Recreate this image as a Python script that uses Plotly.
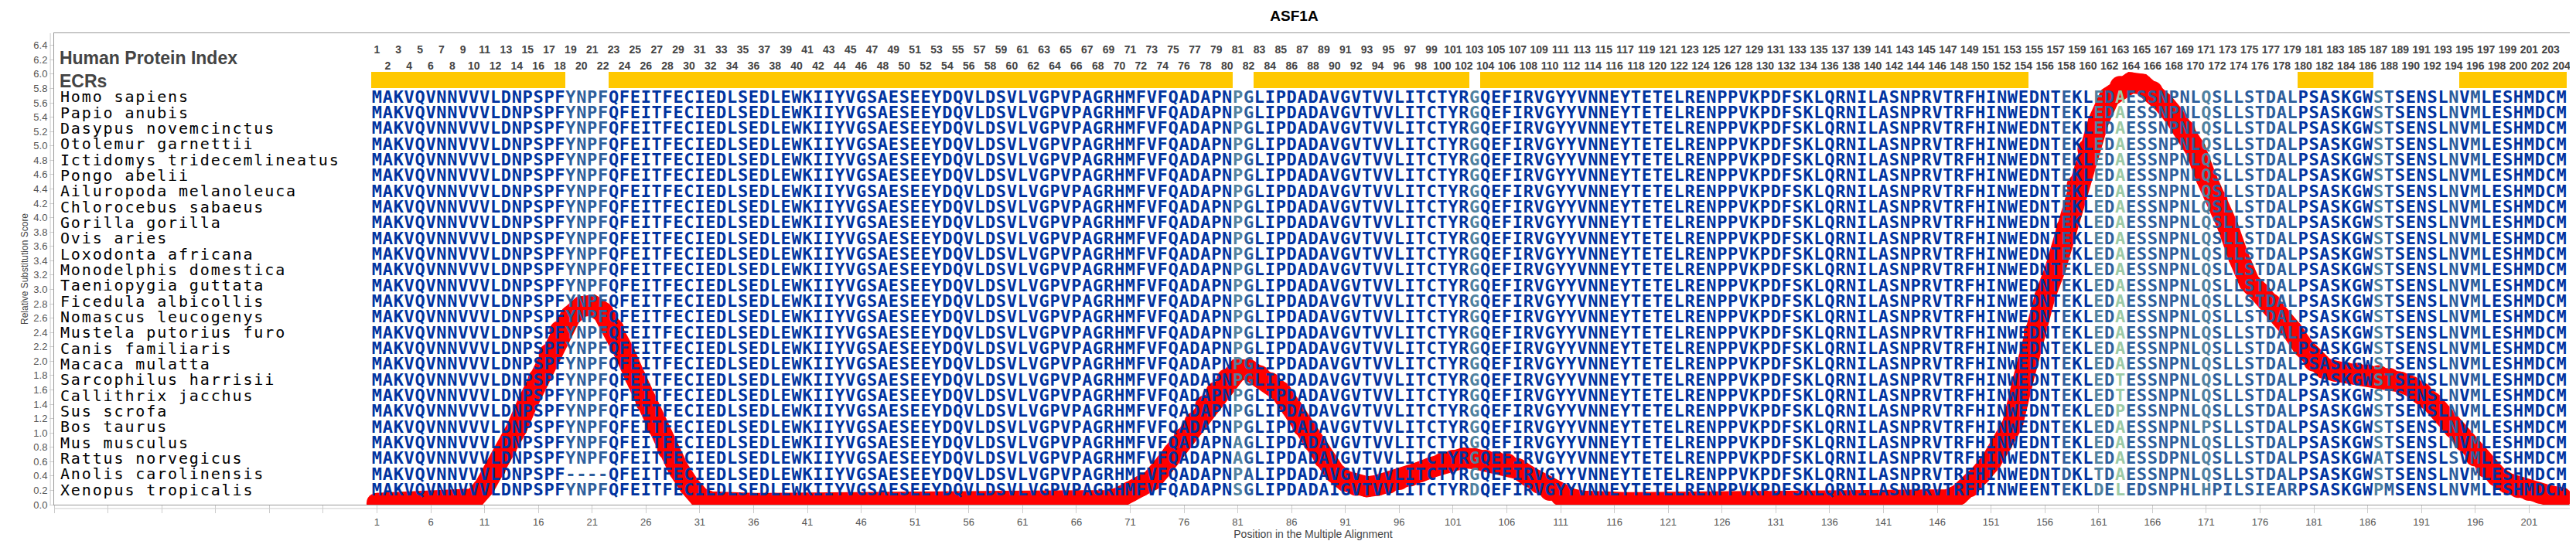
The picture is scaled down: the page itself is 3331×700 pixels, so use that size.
import plotly.graph_objects as go

TITLE = "ASF1A"

HUMAN_SEQ = (
    "MAKVQVNNVVVLDNPSPFYNPFQFEITFECIEDLSEDLEWKIIYVGSAESEEYDQVLDSVLVGPVPAGRHMFVFQADAPNPG"
    "LIPDADAVGVTVVLITCTYRGQEFIRVGYYVNNEYTETELRENPPVKPDFSKLQRNILASNPRVTRFHINWEDNTEKLEDAE"
    "SSNPNLQSLLSTDALPSASKGWSTSENSLNVMLESHMDCM"
)

SPECIES = [
    "Homo sapiens", "Papio anubis", "Dasypus novemcinctus", "Otolemur garnettii",
    "Ictidomys tridecemlineatus", "Pongo abelii", "Ailuropoda melanoleuca",
    "Chlorocebus sabaeus", "Gorilla gorilla", "Ovis aries", "Loxodonta africana",
    "Monodelphis domestica", "Taeniopygia guttata", "Ficedula albicollis",
    "Nomascus leucogenys", "Mustela putorius furo", "Canis familiaris", "Macaca mulatta",
    "Sarcophilus harrisii", "Callithrix jacchus", "Sus scrofa", "Bos taurus",
    "Mus musculus", "Rattus norvegicus", "Anolis carolinensis", "Xenopus tropicalis",
]

# residues that differ from the human sequence (alignment position -> residue)
VARIANTS = {
    "Sarcophilus harrisii": {163: "T"},
    "Callithrix jacchus": {163: "T"},
    "Sus scrofa": {163: "P"},
    "Bos taurus": {171: "P"},
    "Mus musculus": {81: "A"},
    "Rattus norvegicus": {81: "A", 167: "D", 187: "A", 194: "S"},
    "Anolis carolinensis": {19: "-", 20: "-", 21: "-", 22: "-", 82: "A", 158: "D", 161: "T"},
    "Xenopus tropicalis": {81: "S", 90: "I", 103: "D", 155: "E", 161: "D", 162: "E",
                           163: "L", 165: "D", 169: "H", 171: "H", 172: "P", 173: "I",
                           176: "I", 177: "E", 179: "R", 187: "P", 188: "M"},
}

ECR_STARTS = [1, 23, 83, 104, 180, 195]
ECR_ENDS = [18, 80, 102, 154, 186, 204]

# column shading of the alignment letters
MID_COLUMNS = [19, 20, 21, 22, 82, 158, 162, 164, 165, 166, 167, 168, 169, 170,
               172, 173, 174, 175, 176, 177, 178, 179, 188, 194, 196]
TEAL_COLUMNS = [81, 103, 161, 171, 187]
GREEN_COLUMNS = [163]

SCORES = [
    0.02, 0.02, 0.02, 0.02, 0.02, 0.02, 0.02, 0.02, 0.03, 0.08,
    0.25, 0.50, 0.78, 1.07, 1.42, 1.75, 2.10, 2.42, 2.63, 2.76,
    2.78, 2.68, 2.45, 2.12, 1.78, 1.43, 1.10, 0.78, 0.50, 0.27,
    0.10, 0.04, 0.02, 0.02, 0.02, 0.02, 0.02, 0.02, 0.02, 0.02,
    0.02, 0.02, 0.02, 0.02, 0.02, 0.02, 0.02, 0.02, 0.02, 0.02,
    0.02, 0.02, 0.02, 0.02, 0.02, 0.02, 0.02, 0.02, 0.02, 0.02,
    0.02, 0.02, 0.02, 0.02, 0.02, 0.02, 0.03, 0.04, 0.06, 0.10,
    0.18, 0.26, 0.34, 0.52, 0.72, 0.93, 1.15, 1.38, 1.57, 1.75,
    1.88, 1.88, 1.80, 1.70, 1.57, 1.35, 1.10, 0.88, 0.65, 0.45,
    0.33, 0.27, 0.25, 0.27, 0.30, 0.35, 0.40, 0.46, 0.52, 0.58,
    0.62, 0.65, 0.64, 0.62, 0.60, 0.57, 0.50, 0.40, 0.30, 0.20,
    0.13, 0.08, 0.05, 0.03, 0.03, 0.03, 0.03, 0.03, 0.03, 0.03,
    0.03, 0.03, 0.03, 0.03, 0.03, 0.03, 0.03, 0.03, 0.03, 0.03,
    0.03, 0.03, 0.03, 0.03, 0.03, 0.03, 0.03, 0.03, 0.03, 0.03,
    0.03, 0.03, 0.03, 0.03, 0.03, 0.04, 0.07, 0.14, 0.25, 0.42,
    0.60, 0.85, 1.12, 1.75, 2.40, 2.90, 3.30, 3.85, 4.45, 4.95,
    5.35, 5.68, 5.83, 5.88, 5.86, 5.76, 5.60, 5.42, 5.22, 4.95,
    4.55, 4.25, 3.88, 3.45, 3.10, 2.95, 2.80, 2.60, 2.42, 2.20,
    2.00, 1.90, 1.86, 1.84, 1.83, 1.81, 1.80, 1.76, 1.71, 1.65,
    1.56, 1.42, 1.25, 1.07, 0.88, 0.68, 0.52, 0.40, 0.30, 0.24,
    0.20, 0.16, 0.12, 0.10,
]

X_TICKS = list(range(-29, 205, 5))
Y_TICKS = [round(0.2 * i, 1) for i in range(33)]

assert len(HUMAN_SEQ) == 204 and len(SCORES) == 204

# layout helpers (data units)
ROW_TOP = 5.662
ROW_STEP = 0.219
NAME_X = -28
NUM_ODD_Y = 6.325
NUM_EVEN_Y = 6.10
ECR_Y0, ECR_Y1 = 5.80, 6.03

SHADES = {0: "#0033a0", 1: "#2d5e9c", 2: "#4f819f", 3: "#9dcaa6"}

positions = list(range(1, len(HUMAN_SEQ) + 1))


def column_shade(pos):
    if pos in GREEN_COLUMNS:
        return SHADES[3]
    if pos in TEAL_COLUMNS:
        return SHADES[2]
    if pos in MID_COLUMNS:
        return SHADES[1]
    return SHADES[0]


fig = go.Figure()

# ECR bars
fig.add_trace(go.Bar(
    x=[(s + e) / 2 for s, e in zip(ECR_STARTS, ECR_ENDS)],
    y=[ECR_Y1 - ECR_Y0] * len(ECR_STARTS),
    base=ECR_Y0,
    width=[e - s + 1 for s, e in zip(ECR_STARTS, ECR_ENDS)],
    marker=dict(color="#ffc800", line_width=0),
    hoverinfo="skip", showlegend=False,
))

# substitution score curve
fig.add_trace(go.Scatter(
    x=positions, y=SCORES, mode="lines+markers",
    line=dict(color="#ff0000", width=27),
    marker=dict(color="#ff0000", size=27, line_width=0),
    name="Relative Substitution Score", showlegend=False,
))

# alignment letters
xs, ys, letters, colors = [], [], [], []
for row, name in enumerate(SPECIES):
    seq = list(HUMAN_SEQ)
    for pos, aa in VARIANTS.get(name, {}).items():
        seq[pos - 1] = aa
    y = ROW_TOP - row * ROW_STEP
    for pos, aa in zip(positions, seq):
        xs.append(pos)
        ys.append(y)
        letters.append(aa)
        colors.append(column_shade(pos))

fig.add_trace(go.Scatter(
    x=xs, y=ys, text=letters, mode="text", textposition="middle center",
    textfont=dict(family="DejaVu Sans Mono", size=22, color=colors, weight="bold"),
    hoverinfo="skip", showlegend=False,
))

# species names, one character per alignment column
nx, ny, nt = [], [], []
for row, name in enumerate(SPECIES):
    for i, ch in enumerate(name):
        if ch != " ":
            nx.append(NAME_X + i)
            ny.append(ROW_TOP - row * ROW_STEP)
            nt.append(ch)

fig.add_trace(go.Scatter(
    x=nx, y=ny, text=nt, mode="text", textposition="middle center",
    textfont=dict(family="DejaVu Sans Mono", size=20, color="#000000"),
    hoverinfo="skip", showlegend=False,
))

# human protein index numbers
fig.add_trace(go.Scatter(
    x=positions,
    y=[NUM_ODD_Y if p % 2 else NUM_EVEN_Y for p in positions],
    text=[str(p) for p in positions], mode="text", textposition="middle center",
    textfont=dict(family="Liberation Sans", size=14, color="#444444", weight="bold"),
    hoverinfo="skip", showlegend=False,
))

# row headers
fig.add_trace(go.Scatter(
    x=[NAME_X - 0.5, NAME_X - 0.5], y=[6.197, 5.876],
    text=["Human Protein Index", "ECRs"], mode="text", textposition="middle right",
    textfont=dict(family="Liberation Sans", size=23, color="#444444", weight="bold"),
    hoverinfo="skip", showlegend=False,
))

fig.add_shape(type="line", xref="paper", yref="paper", x0=-0.0015, x1=-0.0015, y0=0, y1=1,
              line=dict(color="#cccccc", width=1))
fig.add_shape(type="line", xref="paper", yref="paper", x0=0, x1=1, y0=-0.0081, y1=-0.0081,
              line=dict(color="#cccccc", width=1))

fig.update_layout(
    width=3331, height=700,
    margin=dict(l=62, r=12, t=35, b=50),
    paper_bgcolor="white", plot_bgcolor="white",
    font=dict(family="Liberation Sans", color="#444444"),
    title=dict(text=TITLE, x=0.5, xanchor="center", y=0.982, yanchor="middle",
               font=dict(family="Liberation Sans", size=19, color="#000000", weight="bold")),
    barmode="overlay", bargap=0,
    showlegend=False,
)
fig.update_xaxes(
    range=[-29, 205], tickmode="array", tickvals=X_TICKS,
    ticktext=[str(v) if v >= 1 else "" for v in X_TICKS],
    ticks="outside", ticklen=10, tickcolor="#cccccc",
    showline=True, mirror=True, linecolor="#999999", linewidth=1,
    showgrid=False, zeroline=False,
    tickfont=dict(family="Liberation Sans", size=13, color="#555555"),
    title=dict(text="Position in the Multiple Alignment", standoff=4,
               font=dict(family="Liberation Sans", size=14, color="#444444")),
)
fig.update_yaxes(
    range=[0, 6.57], tickmode="array", tickvals=Y_TICKS,
    ticktext=[f"{v:.1f}" for v in Y_TICKS],
    ticks="outside", ticklen=5, tickcolor="#cccccc",
    showline=True, mirror=True, linecolor="#999999", linewidth=1,
    showgrid=False, zeroline=False,
    tickfont=dict(family="Liberation Sans", size=13, color="#555555"),
    title=dict(text="Relative Substitution Score", standoff=4,
               font=dict(family="Liberation Sans", size=12, color="#444444")),
)

fig.write_html("out.html")
